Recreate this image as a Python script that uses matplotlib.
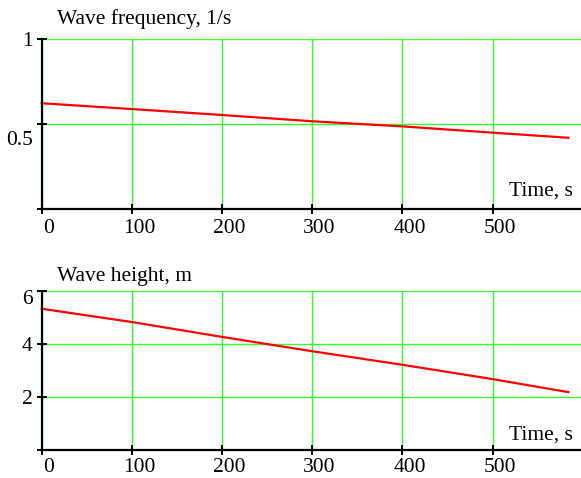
import matplotlib
matplotlib.use("Agg")
import matplotlib.pyplot as plt
from matplotlib.transforms import ScaledTranslation

plt.rcParams['font.family'] = ['Liberation Serif', 'DejaVu Serif']

time_s = [0, 100, 200, 300, 400, 500, 584]
wave_freq = [0.622, 0.588, 0.553, 0.516, 0.486, 0.449, 0.419]
wave_height = [5.32, 4.82, 4.26, 3.72, 3.21, 2.67, 2.18]
x_ticks = [0, 100, 200, 300, 400, 500]
freq_ticks = [0, 0.5, 1]
freq_labels = ['', '0.5', '1']
height_ticks = [0, 2, 4, 6]
height_labels = ['', '2', '4', '6']

W, H = 581, 478
DPI = 100
fig = plt.figure(figsize=(W / DPI, H / DPI), dpi=DPI)

FS = 15.5
GREEN = '#33ff33'

def make_ax(rect, ylim, yticks, ylabels, y, title, title_y, xlabel_y, label_shift, xpad):
    ax = fig.add_axes(rect)
    ax.set_xlim(0, 598)
    ax.set_ylim(*ylim)
    ax.plot(time_s, y, color='#ff0000', lw=1.6, zorder=3, clip_on=False)
    for s in ['top', 'right']:
        ax.spines[s].set_visible(False)
    for s in ['left', 'bottom']:
        ax.spines[s].set_linewidth(1.6)
        ax.spines[s].set_zorder(4)
    ax.set_xticks(x_ticks)
    ax.set_xticklabels([str(v) for v in x_ticks], fontsize=FS)
    ax.set_yticks(yticks)
    ax.set_yticklabels(ylabels, fontsize=FS)
    ax.tick_params(direction='inout', length=7, width=1.4)
    ax.tick_params(axis='x', pad=xpad)
    ax.tick_params(axis='y', pad=3)
    ax.grid(True, color=GREEN, lw=1.0)
    ax.set_axisbelow(True)
    for lab in ax.get_xticklabels():
        lab.set_transform(lab.get_transform() + ScaledTranslation(7 / DPI, 0, fig.dpi_scale_trans))
    for lab, dy in zip(ax.get_yticklabels(), label_shift):
        if dy:
            lab.set_transform(lab.get_transform() + ScaledTranslation(0, -dy / DPI, fig.dpi_scale_trans))
    fig.text(57 / W, 1 - title_y / H, title, fontsize=FS, va='baseline', ha='left')
    fig.text(573 / W, 1 - xlabel_y / H, 'Time, s', fontsize=FS, va='baseline', ha='right')
    return ax

ax1 = make_ax([41.7 / W, 1 - 209 / H, (W - 41.7) / W, 170 / H], (0, 1),
              freq_ticks, freq_labels, wave_freq, 'Wave frequency, 1/s', 24, 196, [0, 14, 0], 4)
ax2 = make_ax([41.7 / W, 1 - 450 / H, (W - 41.7) / W, 159.3 / H], (0, 6),
              height_ticks, height_labels, wave_height, 'Wave height, m', 281, 440, [0, 0, 0, 6], 2)

fig.savefig('out.png', dpi=DPI)
